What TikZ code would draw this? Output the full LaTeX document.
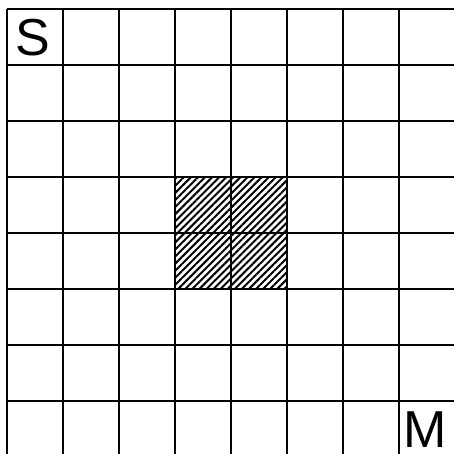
\documentclass[tikz,border=0pt]{standalone}
\usepackage{fontspec}
\setmainfont{Liberation Sans}
\usetikzlibrary{patterns.meta}
\tikzset{
  gridline/.style={line width=2.5pt, black},
  hatch/.style={pattern={Lines[angle=45,distance=5pt,line width=2pt]}, pattern color=black},
  cornerlabel/.style={inner sep=0pt, text depth=0pt, font=\fontsize{52}{52}\selectfont}
}
\begin{document}
\begin{tikzpicture}[x=1pt,y=-1pt]
\useasboundingbox (0,0) rectangle (454,453);
\begin{scope}
\clip (0,0) rectangle (454,453);
\fill[white] (0,0) rectangle (454,453);
\fill[hatch] (175,177) rectangle (287,289);
\foreach \i in {0,...,8} {
  \draw[gridline] ({7+56*\i},9) -- ({7+56*\i},460);
  \draw[gridline] (7,{9+56*\i}) -- (460,{9+56*\i});
}
\end{scope}
\node[cornerlabel, anchor=base west] (s) at (15,55) {S};
\node[cornerlabel, anchor=base west] (m) at (403,447) {M};
\end{tikzpicture}
\end{document}
